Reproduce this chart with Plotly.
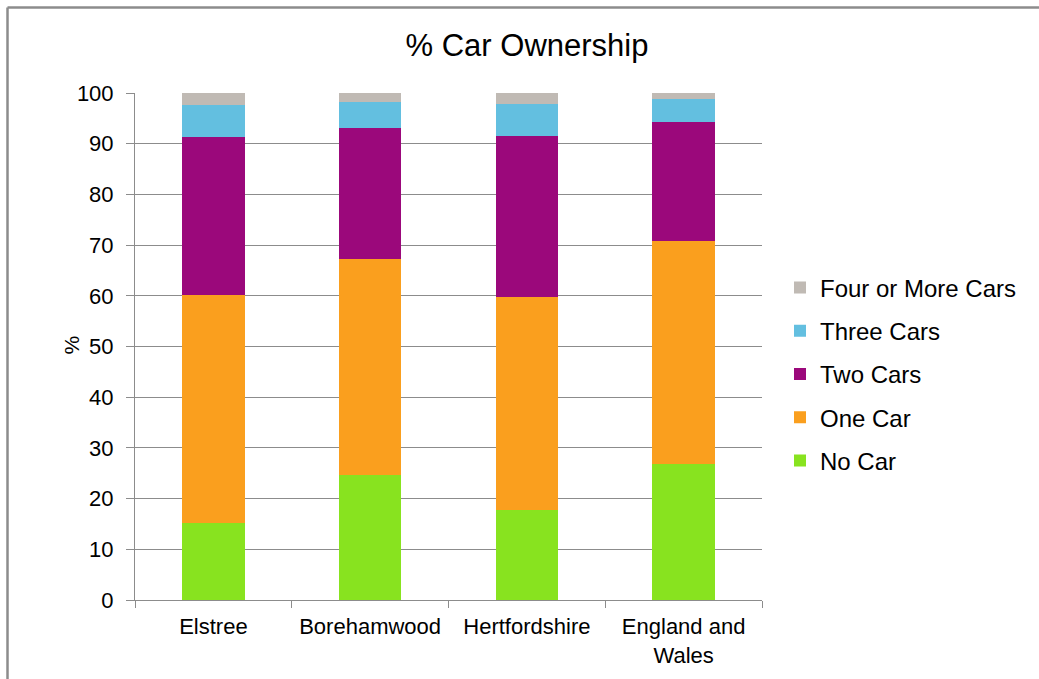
import plotly.graph_objects as go

categories = ["Elstree", "Borehamwood", "Hertfordshire", "England and<br>Wales"]
no_car = [15.2, 24.6, 17.8, 26.9]
one_car = [45.0, 42.7, 41.9, 43.9]
two_cars = [31.1, 25.7, 31.8, 23.5]
three_cars = [6.3, 5.3, 6.3, 4.5]
four_cars = [2.4, 1.7, 2.2, 1.2]
y_ticks = [0, 10, 20, 30, 40, 50, 60, 70, 80, 90, 100]

series = [
    ("No Car", no_car, "#88E31F"),
    ("One Car", one_car, "#FA9F1E"),
    ("Two Cars", two_cars, "#9B087B"),
    ("Three Cars", three_cars, "#63BFE0"),
    ("Four or More Cars", four_cars, "#C0BAB4"),
]

FONT = "Liberation Sans, Arial, sans-serif"

fig = go.Figure()
n = len(series)
for i, (name, vals, col) in enumerate(series):
    fig.add_trace(go.Bar(
        x=categories, y=vals, name=name, legendgroup=name,
        legendrank=(n - i) * 100,
        marker=dict(color=col, line=dict(width=0)),
    ))

L, R, T, B = 135, 277, 93, 79
PW, PH = 1039 - L - R, 679 - T - B

fig.update_layout(
    width=1039, height=679,
    margin=dict(l=L, r=R, t=T, b=B),
    paper_bgcolor="white", plot_bgcolor="white",
    barmode="stack", bargap=0.6,
    font=dict(family=FONT, color="#000000", size=20),
    title=dict(text="% Car Ownership", x=527 / 1039, xref="container", xanchor="center",
               y=1 - 45 / 679, yref="container", yanchor="middle",
               font=dict(size=31, family=FONT, color="#000000")),
    legend=dict(x=(780 - L) / PW, xanchor="left", y=(600 - 374) / PH, yanchor="middle",
                traceorder="grouped", tracegroupgap=9,
                font=dict(size=24, family=FONT, color="#000000"),
                bgcolor="rgba(0,0,0,0)"),
    showlegend=True,
)

fig.update_xaxes(
    showgrid=False, showline=True, linecolor="#8C8C8C", linewidth=1,
    ticks="outside", tickson="boundaries", ticklen=7, tickcolor="#8C8C8C",
    ticklabelstandoff=7,
    tickfont=dict(size=22, family=FONT, color="#000000"),
)
fig.update_yaxes(
    range=[0, 100], tickvals=y_ticks, showgrid=True, gridcolor="#8C8C8C", gridwidth=1,
    showline=True, linecolor="#8C8C8C", linewidth=1,
    ticks="outside", ticklen=8, tickcolor="#8C8C8C",
    ticklabelstandoff=8,
    tickfont=dict(size=22, family=FONT, color="#000000"),
    zeroline=False,
)

fig.add_annotation(text="%", textangle=-90, xref="paper", yref="paper",
                   x=(57 - L) / PW, y=(600 - 345) / PH, showarrow=False,
                   font=dict(size=21, family=FONT, color="#000000"))

# outer chart frame (top and left edges visible in reference)
fig.add_shape(type="line", xref="paper", yref="paper",
              x0=(7.5 - L) / PW, x1=(1045 - L) / PW, y0=(600 - 7.5) / PH,
              y1=(600 - 7.5) / PH, line=dict(color="#8C8C8C", width=2.5))
fig.add_shape(type="line", xref="paper", yref="paper",
              x0=(7.5 - L) / PW, x1=(7.5 - L) / PW, y0=(600 - 7.5) / PH, y1=(600 - 690) / PH,
              line=dict(color="#8C8C8C", width=2.5))

fig.write_html("out.html")
